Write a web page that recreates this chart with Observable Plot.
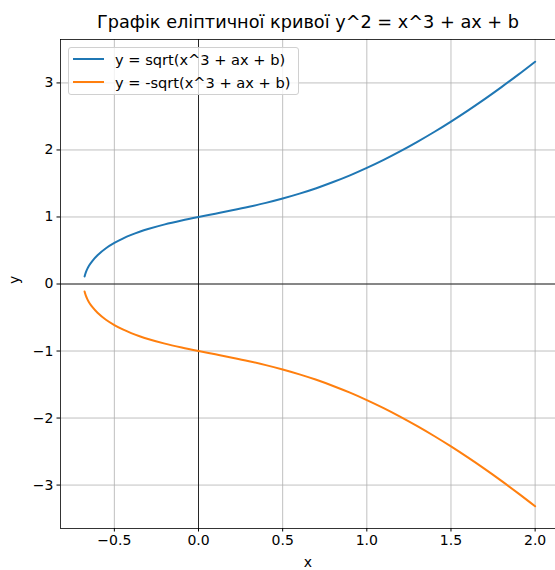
<!DOCTYPE html>
<html>
<head>
<meta charset="utf-8">
<script src="https://cdn.jsdelivr.net/npm/d3@7"></script>
<script src="https://cdn.jsdelivr.net/npm/@observablehq/plot@0.6"></script>
<style>
  html, body { margin: 0; padding: 0; background: #fff; }
  #wrap { position: relative; width: 555px; height: 570px; font-family: "DejaVu Sans", sans-serif; }
  #legend { position: absolute; left: 68px; top: 47px; width: 231px; height: 48px;
    border: 1px solid #d0d0d0; border-radius: 3px; background: rgba(255,255,255,0.8);
    font-size: 14.6px; color: #000; box-sizing: border-box; }
  .row { position: absolute; left: 4px; height: 20px; display: flex; align-items: center; white-space: nowrap; }
  .row svg { margin-right: 11px; }
</style>
</head>
<body>
<div id="wrap"><div id="legend"></div></div>
<script>
// Data
const xs = [-0.677, -0.67, -0.66, -0.65, -0.63, -0.6, -0.55, -0.5, -0.45, -0.4, -0.35, -0.3, -0.2, -0.1, 0, 0.1, 0.2, 0.3, 0.4, 0.5, 0.6, 0.7, 0.8, 0.9, 1.0, 1.1, 1.2, 1.3, 1.4, 1.5, 1.6, 1.7, 1.8, 1.9, 2.0];
const yUpper = [0.113, 0.171, 0.229, 0.275, 0.346, 0.429, 0.533, 0.612, 0.677, 0.732, 0.779, 0.820, 0.890, 0.948, 1.000, 1.049, 1.099, 1.152, 1.210, 1.275, 1.348, 1.429, 1.521, 1.621, 1.732, 1.852, 1.982, 2.121, 2.268, 2.424, 2.588, 2.759, 2.938, 3.124, 3.317];
const yLower = [-0.113, -0.171, -0.229, -0.275, -0.346, -0.429, -0.533, -0.612, -0.677, -0.732, -0.779, -0.820, -0.890, -0.948, -1.000, -1.049, -1.099, -1.152, -1.210, -1.275, -1.348, -1.429, -1.521, -1.621, -1.732, -1.852, -1.982, -2.121, -2.268, -2.424, -2.588, -2.759, -2.938, -3.124, -3.317];
const seriesNames = ["y = sqrt(x^3 + ax + b)", "y = -sqrt(x^3 + ax + b)"];
const seriesColors = ["#1f77b4", "#ff7f0e"];
const xTicks = [-0.5, 0, 0.5, 1.0, 1.5, 2.0];
const yTicks = [-3, -2, -1, 0, 1, 2, 3];
const xDomain = [-0.82, 2.121];
const yDomain = [-3.648, 3.648];
const titleText = "Графік еліптичної кривої y^2 = x^3 + ax + b";

const upper = xs.map((x, i) => ({x, y: yUpper[i]}));
const lower = xs.map((x, i) => ({x, y: yLower[i]}));

const chart = Plot.plot({
  width: 555,
  height: 570,
  marginLeft: 60,
  marginRight: 0,
  marginTop: 39,
  marginBottom: 42,
  style: {fontFamily: "DejaVu Sans, sans-serif", fontSize: "14px", color: "#000", background: "#fff", overflow: "visible"},
  x: {domain: xDomain},
  y: {domain: yDomain},
  marks: [
    Plot.gridX(xTicks, {stroke: "#b0b0b0", strokeOpacity: 1, strokeWidth: 0.8}),
    Plot.gridY(yTicks, {stroke: "#b0b0b0", strokeOpacity: 1, strokeWidth: 0.8}),
    Plot.ruleY([0], {stroke: "#000", strokeWidth: 0.8}),
    Plot.ruleX([0], {stroke: "#000", strokeWidth: 0.8}),
    Plot.line(upper, {x: "x", y: "y", stroke: seriesColors[0], strokeWidth: 2, curve: "catmull-rom"}),
    Plot.line(lower, {x: "x", y: "y", stroke: seriesColors[1], strokeWidth: 2, curve: "catmull-rom"}),
    Plot.ruleX([xDomain[0]], {stroke: "#000", strokeWidth: 0.8}),
    Plot.ruleY([yDomain[0]], {stroke: "#000", strokeWidth: 0.8}),
    Plot.ruleY([yDomain[1]], {stroke: "#000", strokeWidth: 0.8}),
    Plot.axisX(xTicks, {tickSize: 3.5, tickPadding: 3.5, fontSize: 14, tickFormat: d3.format(".1f"), label: null}),
    Plot.axisY(yTicks, {tickSize: 3.5, tickPadding: 3.5, fontSize: 14, tickFormat: d3.format("d"), label: null}),
    Plot.text([titleText], {frameAnchor: "top", dy: -17, fontSize: 17.7, lineAnchor: "middle", fill: "#000"}),
    Plot.text(["x"], {frameAnchor: "bottom", dy: 29, fontSize: 14, lineAnchor: "top", fill: "#000"}),
    Plot.text(["y"], {frameAnchor: "left", dx: -46, rotate: -90, fontSize: 14, fill: "#000"})
  ]
});
document.getElementById("wrap").prepend(chart);

const legend = document.getElementById("legend");
seriesNames.forEach((name, i) => {
  const row = document.createElement("div");
  row.className = "row";
  row.style.top = (1 + i * 23) + "px";
  row.innerHTML = `<svg width="31" height="4"><line x1="0" x2="31" y1="2" y2="2" stroke="${seriesColors[i]}" stroke-width="2"/></svg><span>${name}</span>`;
  legend.appendChild(row);
});
</script>
</body>
</html>
